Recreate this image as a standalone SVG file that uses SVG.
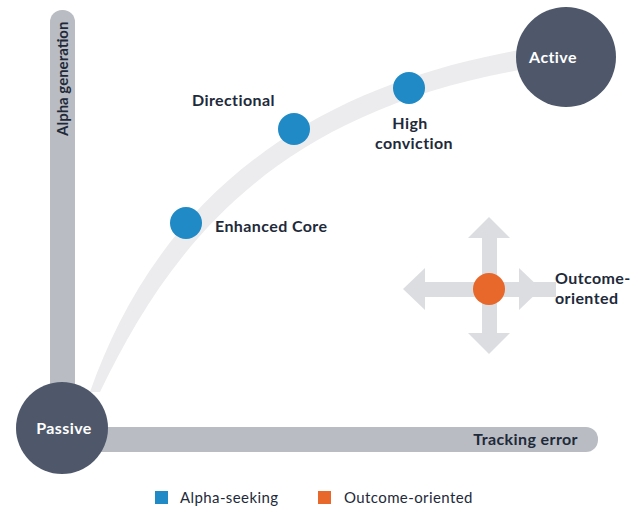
<svg xmlns="http://www.w3.org/2000/svg" width="640" height="515" viewBox="0 0 640 515">
<style>
text{font-family:"Lato","Liberation Sans",sans-serif;fill:#1e2a3a;letter-spacing:0.4px}
.b{font-weight:bold;font-size:16px}
.w{fill:#fff;font-weight:bold;font-size:16px}
.blue{fill:#1f8ac6}
.ax{fill:#b9bcc3}
.arr{fill:#dcdde0}
</style>
<rect width="640" height="515" fill="#fff"/>
<g id="axes">
<rect class="ax" x="50" y="10" width="25" height="420" rx="12"/>
<rect class="ax" x="62" y="427" width="536" height="25" rx="12"/>
<text class="b" transform="translate(68,136) rotate(-90)" style="font-size:15px;letter-spacing:0">Alpha generation</text>
<text class="b" x="578" y="445" text-anchor="end">Tracking error</text>
</g>
<g id="connectors">
<path d="M90,392 C140,250 250,98 520,50 L520,70 C262,116 165,258 100,392 Z" fill="#ececee"/>
<g class="arr">
<rect x="422" y="282" width="134" height="15"/>
<rect x="482" y="235" width="15" height="102"/>
<polygon points="403,289 425,268 425,310"/>
<polygon points="541,289 519,268 519,310"/>
<polygon points="489,217 468,238 510,238"/>
<polygon points="489,354 468,333 510,333"/>
</g>
</g>
<g id="passive"><circle cx="62" cy="428" r="46" fill="#4e586a"/><text class="w" x="64" y="434" text-anchor="middle">Passive</text></g>
<g id="active"><circle cx="566" cy="57" r="50" fill="#4e586a"/><text class="w" x="553" y="63" text-anchor="middle">Active</text></g>
<g id="enhanced"><circle class="blue" cx="186" cy="223" r="16"/><text class="b" x="215" y="232">Enhanced Core</text></g>
<g id="directional"><circle class="blue" cx="294" cy="129" r="16"/><text class="b" x="192" y="106">Directional</text></g>
<g id="high"><circle class="blue" cx="409" cy="88" r="16"/><text class="b" x="410" y="129" text-anchor="middle">High</text><text class="b" x="414" y="149" text-anchor="middle">conviction</text></g>
<g id="outcome"><circle cx="489" cy="289" r="16" fill="#e8672a"/><text class="b" x="555" y="284">Outcome-</text><text class="b" x="555" y="304">oriented</text></g>
<g id="legend">
<rect class="blue" x="155" y="491" width="13" height="13"/>
<text x="180" y="503" font-size="15">Alpha-seeking</text>
<rect x="318" y="491" width="13" height="13" fill="#e8672a"/>
<text x="344" y="503" font-size="15">Outcome-oriented</text>
</g>
</svg>
